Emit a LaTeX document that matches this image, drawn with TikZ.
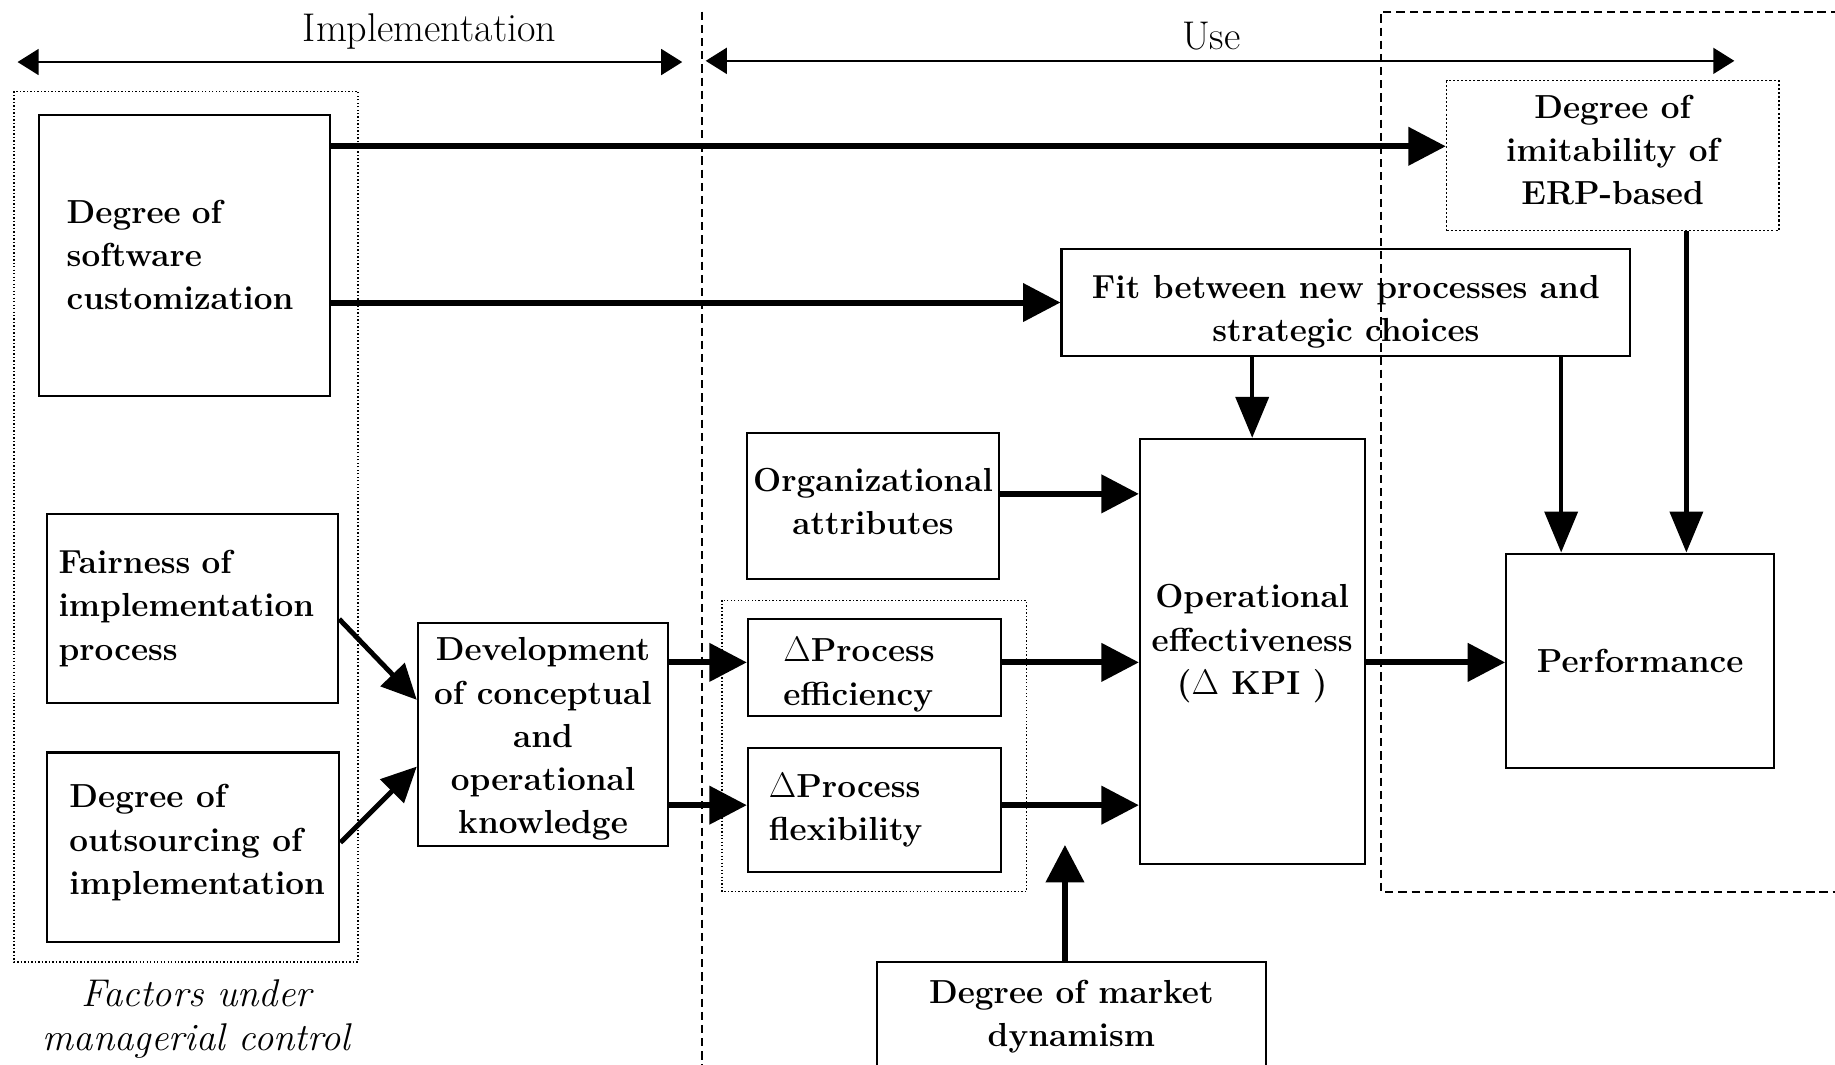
\documentclass[tikz,border=0pt]{standalone}
\usetikzlibrary{arrows.meta}
\newcommand{\boxfont}{\fontsize{16.2}{21}\selectfont\bfseries}
\newcommand{\phasefont}{\fontsize{19.5}{22}\selectfont}
\newcommand{\notefont}{\fontsize{18.8}{21.5}\selectfont\itshape}
\begin{document}
\begin{tikzpicture}[x=0.02cm,y=-0.02cm,
  box/.style={draw, line width=1pt, inner sep=0pt, align=center, font=\boxfont},
  dotbox/.style={box, densely dotted, line width=0.7pt},
  txt/.style={inner sep=0pt, align=center, font=\boxfont},
  group/.style={densely dotted, line width=0.7pt},
  phase/.style={dash pattern=on 4pt off 2.4pt, line width=0.8pt},
  span/.style={line width=1.2pt, {Triangle[length=0.36cm,width=0.44cm]}-{Triangle[length=0.36cm,width=0.44cm]}},
  big/.style={line width=2.9pt, -{Triangle[length=0.64cm,width=0.64cm]}},
  mid/.style={line width=2.2pt, -{Triangle[length=0.7cm,width=0.56cm]}},
  diag/.style={line width=2.4pt, -{Triangle[length=0.6cm,width=0.56cm]}}]
\useasboundingbox (0,0) rectangle (1568,910);

% phase separators and regions
\draw[phase] (600,10) -- (600,940);
\draw[phase] (1650,10) -- (1180,10) -- (1180,762) -- (1650,762);
\draw[group] (12,78) rectangle (306,822);
\draw[group] (617,513) rectangle (877,762);

% phase labels
\node[font=\phasefont] (impl) at (367,27) {Implementation};
\node[font=\phasefont] (use) at (1035,31) {Use};
\coordinate (iL) at (15,53);
\coordinate (iR) at (583,53);
\coordinate (uL) at (603,52);
\coordinate (uR) at (1482,52);
\draw[span] (iL) -- (iR);
\draw[span] (uL) -- (uR);

% boxes
\node[box, minimum width=4.98cm, minimum height=4.8cm, text width=4.02cm, inner xsep=0.48cm, align=left] (cust) at (157.5,218)
  {Degree of\\software\\customization};
\node[box, minimum width=4.98cm, minimum height=3.24cm, text width=4.58cm, inner xsep=0.2cm, align=left] (fair) at (164.5,520)
  {Fairness of\\implementation\\process};
\node[box, minimum width=5.0cm, minimum height=3.24cm] (outs) at (165,724) {};
\node[txt, align=left, anchor=west] (outs-t) at (59,720) {Degree of\\outsourcing of\\implementation};
\node[box, minimum width=4.28cm, minimum height=3.82cm] (dev) at (464,627.5) {};
\node[txt] (dev-t) at (464,631.5) {Development\\of conceptual\\and\\operational\\knowledge};
\node[box, minimum width=4.32cm, minimum height=2.5cm] (org) at (746,432.5) {};
\node[txt] (org-t) at (746,428.5) {Organizational\\attributes};
\node[box, minimum width=4.32cm, minimum height=1.66cm] (eff) at (747,570.5) {};
\node[txt, align=left, anchor=west] (eff-t) at (669,576.5) {$\Delta$Process\\efficiency};
\node[box, minimum width=4.32cm, minimum height=2.12cm, text width=3.6cm, inner xsep=0.36cm, align=left] (flex) at (747,692)
  {$\Delta$Process\\flexibility};
\node[box, minimum width=9.72cm, minimum height=1.82cm] (fit) at (1150,258.5) {};
\node[txt] (fit-t) at (1150,266.5) {Fit between new processes and\\strategic choices};
\node[dotbox, minimum width=5.68cm, minimum height=2.56cm] (imit) at (1378,133) {};
\node[txt] (imit-t) at (1378,128) {Degree of\\imitability of\\ERP-based};
\node[box, minimum width=3.84cm, minimum height=7.26cm] (opeff) at (1070,556.5) {};
\node[txt] (opeff-t) at (1070,550) {Operational\\effectiveness\\($\Delta$ KPI\ )};
\node[box, minimum width=4.58cm, minimum height=3.66cm] (perf) at (1401.5,564.5) {Performance};
\node[box, minimum width=6.66cm, minimum height=2.36cm] (dyn) at (915.5,881) {};
\node[txt] (dyn-t) at (915.5,868.5) {Degree of market\\dynamism};

% group caption
\node[font=\notefont, align=center] (ctrl) at (168,871) {Factors under\\managerial control};

% connectors
\draw[big] (cust.east |- 0,125) -- (imit.west |- 0,125);
\draw[big] (cust.east |- fit.west) -- (fit.west);
\draw[mid] (opeff.north |- fit.south) -- (opeff.north);
\draw[mid] (fit.south -| 1334,0) -- (perf.north -| 1334,0);
\draw[mid] (imit.south -| 1441,0) -- (perf.north -| 1441,0);
\draw[big] (org.east |- 0,422) -- (opeff.west |- 0,422);
\draw[big] (eff.east |- 0,566) -- (opeff.west |- 0,566);
\draw[big] (flex.east |- 0,688) -- (opeff.west |- 0,688);
\draw[big] (opeff.east |- 0,566) -- (perf.west |- 0,566);
\draw[big] (dev.east |- 0,566) -- (eff.west |- 0,566);
\draw[big] (dev.east |- 0,688) -- (flex.west |- 0,688);
\draw[diag] (fair.east |- 0,529) -- (dev.west |- 0,598);
\draw[diag] (outs.east |- 0,720) -- (dev.west |- 0,655);
\coordinate (dyntip) at (910,722);
\draw[big] (dyn.north -| dyntip) -- (dyntip);
\end{tikzpicture}
\end{document}
